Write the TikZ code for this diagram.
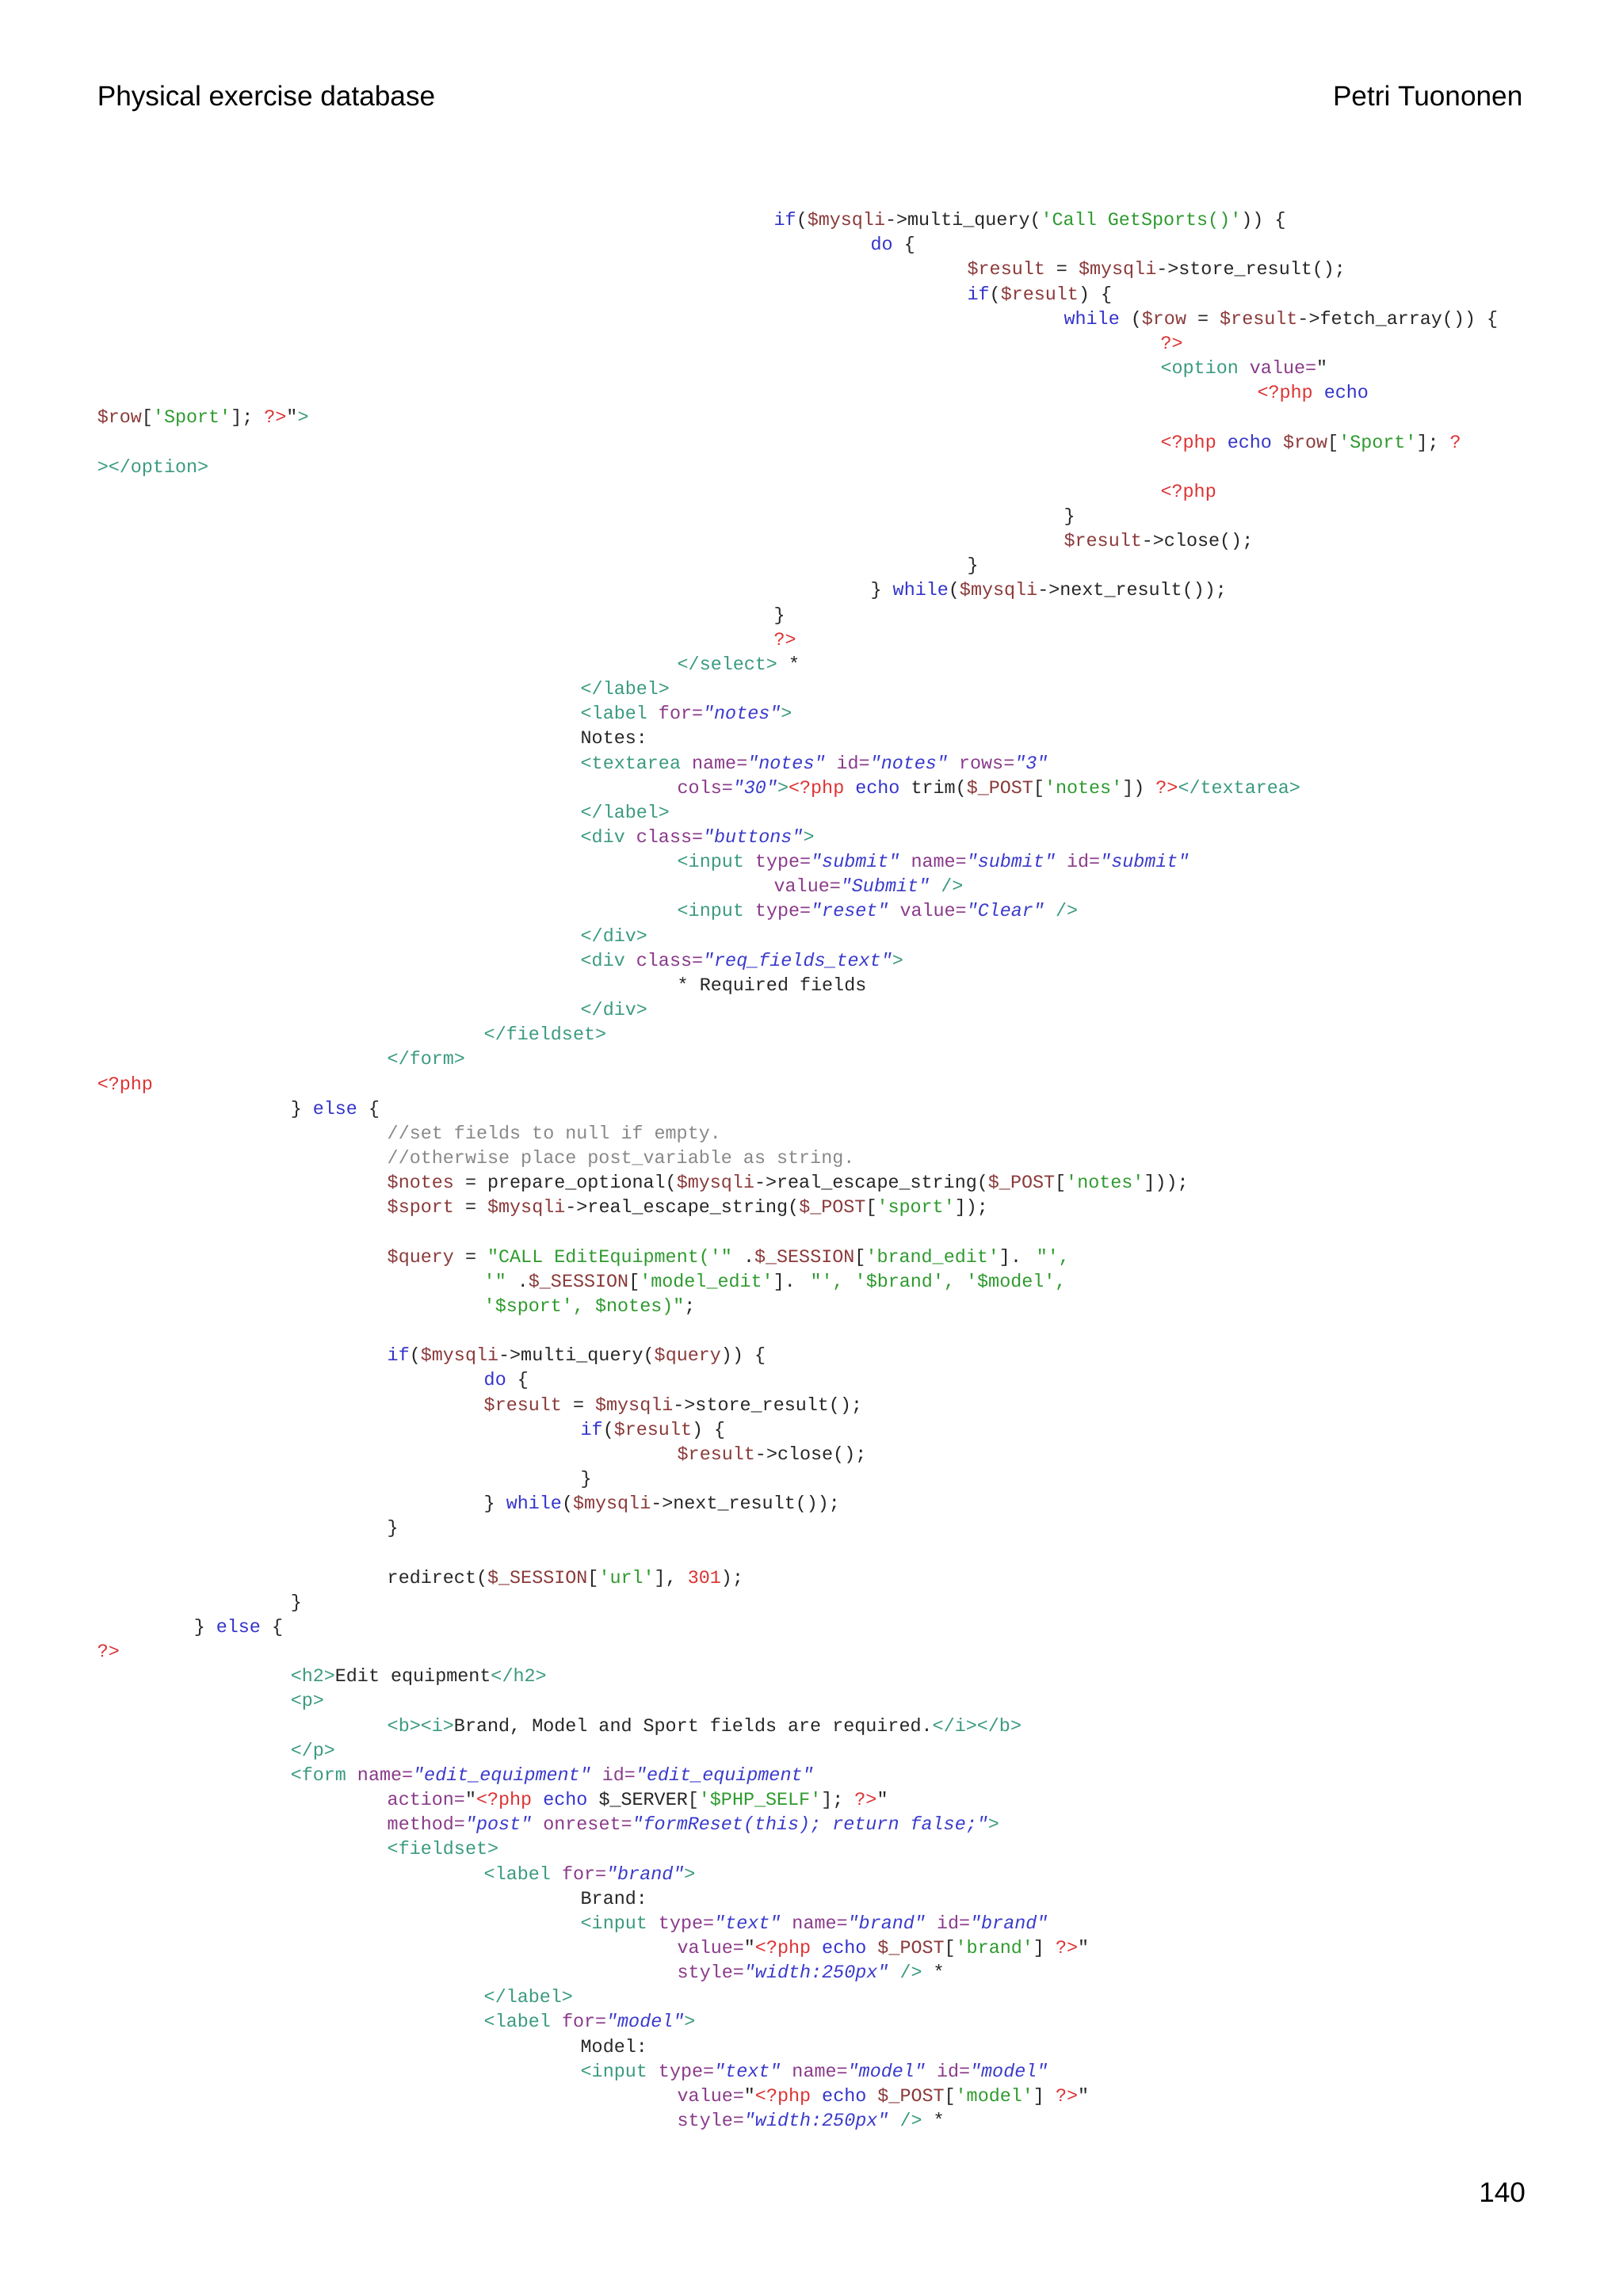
\documentclass[tikz,border=0pt]{standalone}
\usepackage{fontspec}
\setmainfont{Liberation Sans}
\newfontfamily\cf{Liberation Mono}
\definecolor{kw}{HTML}{3333CC}
\definecolor{vr}{HTML}{8B3A3A}
\definecolor{st}{HTML}{2E9A2E}
\definecolor{tg}{HTML}{3A9A80}
\definecolor{at}{HTML}{8A3A8A}
\definecolor{av}{HTML}{3A3ACC}
\definecolor{ph}{HTML}{DD3333}
\definecolor{cm}{HTML}{888888}
\newcommand\K[1]{\textcolor{kw}{#1}}
\newcommand\V[1]{\textcolor{vr}{#1}}
\newcommand\cS[1]{\textcolor{st}{#1}}
\newcommand\T[1]{\textcolor{tg}{#1}}
\newcommand\A[1]{\textcolor{at}{#1}}
\newcommand\Q[1]{\textcolor{av}{\itshape #1}}
\newcommand\PH[1]{\textcolor{ph}{#1}}
\newcommand\C[1]{\textcolor{cm}{#1}}
\newcommand\N[1]{\textcolor{ph}{#1}}
\newcommand\CL[3]{\node[codeln] (c#1) at (#2, {150+16.857*(#1-1)+4}) {#3};}
\begin{document}
\begin{tikzpicture}[x=0.4621pt,y=-0.4621pt,
  codeln/.style={anchor=base west,inner sep=0pt,font=\cf\fontsize{5.85pt}{7pt}\selectfont,text=black!85},
  hdr/.style={inner sep=0pt,font=\fontsize{8.8pt}{10pt}\selectfont}]
\useasboundingbox (0,0) rectangle (1108,1568);
\fill[white] (0,0) rectangle (1108,1568);
\node[hdr,anchor=base west] (title) at (66,72) {Physical exercise database};
\node[hdr,anchor=base east] (author) at (1040,72) {Petri Tuononen};
\node[hdr,anchor=base east] (pnum) at (1042,1504) {140};
\CL{1}{528}{\K{if}(\V{\$mysqli}->multi\_query(\cS{'Call GetSports()'})) \{}
\CL{2}{594}{\K{do} \{}
\CL{3}{660}{\V{\$result} = \V{\$mysqli}->store\_result();}
\CL{4}{660}{\K{if}(\V{\$result}) \{}
\CL{5}{726}{\K{while} (\V{\$row} = \V{\$result}->fetch\_array()) \{}
\CL{6}{792}{\PH{?>}}
\CL{7}{792}{\T{<option} \A{value=}"}
\CL{8}{858}{\PH{<?php} \K{echo}}
\CL{9}{66}{\V{\$row}[\cS{'Sport'}]; \PH{?>}"\T{>}}
\CL{10}{792}{\PH{<?php} \K{echo} \V{\$row}[\cS{'Sport'}]; \PH{?}}
\CL{11}{66}{\T{></option>}}
\CL{12}{792}{\PH{<?php}}
\CL{13}{726}{\}}
\CL{14}{726}{\V{\$result}->close();}
\CL{15}{660}{\}}
\CL{16}{594}{\} \K{while}(\V{\$mysqli}->next\_result());}
\CL{17}{528}{\}}
\CL{18}{528}{\PH{?>}}
\CL{19}{462}{\T{</select>} *}
\CL{20}{396}{\T{</label>}}
\CL{21}{396}{\T{<label} \A{for=}\Q{"notes"}\T{>}}
\CL{22}{396}{Notes:}
\CL{23}{396}{\T{<textarea} \A{name=}\Q{"notes"} \A{id=}\Q{"notes"} \A{rows=}\Q{"3"}}
\CL{24}{462}{\A{cols=}\Q{"30"}\T{>}\PH{<?php} \K{echo} trim(\V{\$\_POST}[\cS{'notes'}]) \PH{?>}\T{</textarea>}}
\CL{25}{396}{\T{</label>}}
\CL{26}{396}{\T{<div} \A{class=}\Q{"buttons"}\T{>}}
\CL{27}{462}{\T{<input} \A{type=}\Q{"submit"} \A{name=}\Q{"submit"} \A{id=}\Q{"submit"}}
\CL{28}{528}{\A{value=}\Q{"Submit"} \T{/>}}
\CL{29}{462}{\T{<input} \A{type=}\Q{"reset"} \A{value=}\Q{"Clear"} \T{/>}}
\CL{30}{396}{\T{</div>}}
\CL{31}{396}{\T{<div} \A{class=}\Q{"req\_fields\_text"}\T{>}}
\CL{32}{462}{* Required fields}
\CL{33}{396}{\T{</div>}}
\CL{34}{330}{\T{</fieldset>}}
\CL{35}{264}{\T{</form>}}
\CL{36}{66}{\PH{<?php}}
\CL{37}{198}{\} \K{else} \{}
\CL{38}{264}{\C{//set fields to null if empty.}}
\CL{39}{264}{\C{//otherwise place post\_variable as string.}}
\CL{40}{264}{\V{\$notes} = prepare\_optional(\V{\$mysqli}->real\_escape\_string(\V{\$\_POST}[\cS{'notes'}]));}
\CL{41}{264}{\V{\$sport} = \V{\$mysqli}->real\_escape\_string(\V{\$\_POST}[\cS{'sport'}]);}
\CL{43}{264}{\V{\$query} = \cS{"CALL EditEquipment('"} .\V{\$\_SESSION}[\cS{'brand\_edit'}]. \cS{"',}}
\CL{44}{330}{\cS{'"} .\V{\$\_SESSION}[\cS{'model\_edit'}]. \cS{"', '\$brand', '\$model',}}
\CL{45}{330}{\cS{'\$sport', \$notes)"};}
\CL{47}{264}{\K{if}(\V{\$mysqli}->multi\_query(\V{\$query})) \{}
\CL{48}{330}{\K{do} \{}
\CL{49}{330}{\V{\$result} = \V{\$mysqli}->store\_result();}
\CL{50}{396}{\K{if}(\V{\$result}) \{}
\CL{51}{462}{\V{\$result}->close();}
\CL{52}{396}{\}}
\CL{53}{330}{\} \K{while}(\V{\$mysqli}->next\_result());}
\CL{54}{264}{\}}
\CL{56}{264}{redirect(\V{\$\_SESSION}[\cS{'url'}], \N{301});}
\CL{57}{198}{\}}
\CL{58}{132}{\} \K{else} \{}
\CL{59}{66}{\PH{?>}}
\CL{60}{198}{\T{<h2>}Edit equipment\T{</h2>}}
\CL{61}{198}{\T{<p>}}
\CL{62}{264}{\T{<b><i>}Brand, Model and Sport fields are required.\T{</i></b>}}
\CL{63}{198}{\T{</p>}}
\CL{64}{198}{\T{<form} \A{name=}\Q{"edit\_equipment"} \A{id=}\Q{"edit\_equipment"}}
\CL{65}{264}{\A{action=}"\PH{<?php} \K{echo} \$\_SERVER[\cS{'\$PHP\_SELF'}]; \PH{?>}"}
\CL{66}{264}{\A{method=}\Q{"post"} \A{onreset=}\Q{"formReset(this); return false;"}\T{>}}
\CL{67}{264}{\T{<fieldset>}}
\CL{68}{330}{\T{<label} \A{for=}\Q{"brand"}\T{>}}
\CL{69}{396}{Brand:}
\CL{70}{396}{\T{<input} \A{type=}\Q{"text"} \A{name=}\Q{"brand"} \A{id=}\Q{"brand"}}
\CL{71}{462}{\A{value=}"\PH{<?php} \K{echo} \V{\$\_POST}[\cS{'brand'}] \PH{?>}"}
\CL{72}{462}{\A{style=}\Q{"width:250px"} \T{/>} *}
\CL{73}{330}{\T{</label>}}
\CL{74}{330}{\T{<label} \A{for=}\Q{"model"}\T{>}}
\CL{75}{396}{Model:}
\CL{76}{396}{\T{<input} \A{type=}\Q{"text"} \A{name=}\Q{"model"} \A{id=}\Q{"model"}}
\CL{77}{462}{\A{value=}"\PH{<?php} \K{echo} \V{\$\_POST}[\cS{'model'}] \PH{?>}"}
\CL{78}{462}{\A{style=}\Q{"width:250px"} \T{/>} *}
\end{tikzpicture}
\end{document}
